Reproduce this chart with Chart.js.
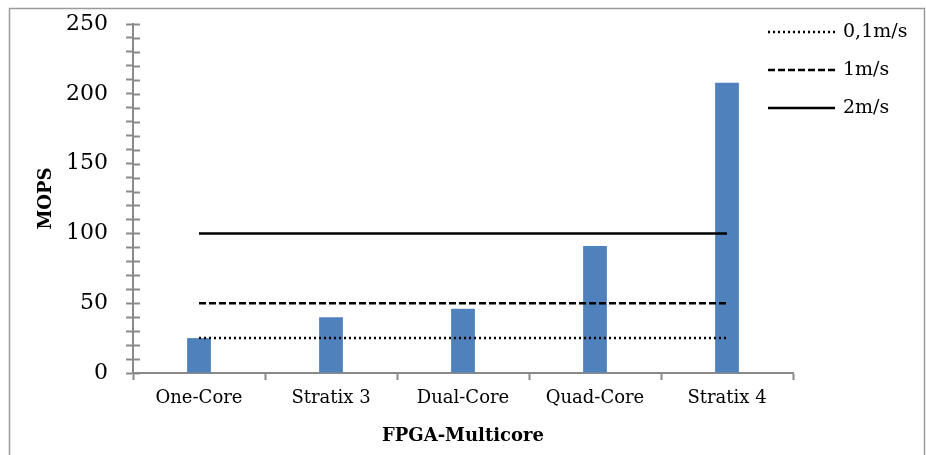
<!DOCTYPE html>
<html>
<head>
<meta charset="utf-8">
<script src="https://cdn.jsdelivr.net/npm/chart.js@4.4.1/dist/chart.umd.min.js"></script>
<style>
  html, body { margin: 0; padding: 0; background: #fff; }
  canvas { display: block; }
</style>
</head>
<body>
<canvas id="mopsChart" width="926" height="455"></canvas>
<script>
const categories = ["One-Core", "Stratix 3", "Dual-Core", "Quad-Core", "Stratix 4"];
const mopsValues = [25, 40, 46, 91, 208];
const speedLabels = ["0,1m/s", "1m/s", "2m/s"];
const speedLimits = [25, 50, 100];
const speedDashes = [[2, 3], [7, 3], []];
const yMax = 250;
const yMajorStep = 50;
const yMinorStep = 10;

const axisGray = "#8a8a8a";

// frame around the whole chart
const framePlugin = {
  id: "frame",
  beforeDraw(chart) {
    const ctx = chart.ctx;
    ctx.save();
    ctx.strokeStyle = "#9a9a9a";
    ctx.lineWidth = 1.5;
    ctx.strokeRect(9.5, 8.5, 915, 470);
    ctx.restore();
  },
};

// y ticks cross the axis, draw the inner half
const innerTicksPlugin = {
  id: "innerTicks",
  afterDraw(chart) {
    const y = chart.scales.y;
    const ctx = chart.ctx;
    const left = chart.chartArea.left;
    ctx.save();
    ctx.strokeStyle = axisGray;
    ctx.lineWidth = 2;
    y.ticks.forEach((t) => {
      const py = Math.round(y.getPixelForValue(t.value)) + 0.5;
      ctx.beginPath();
      ctx.moveTo(left, py);
      ctx.lineTo(left + 7, py);
      ctx.stroke();
    });
    ctx.restore();
  },
};

// legend on the right, line samples
const lineLegendPlugin = {
  id: "lineLegend",
  afterDraw(chart) {
    const ctx = chart.ctx;
    const rows = [32, 70, 108];
    ctx.save();
    ctx.font = "19px 'DejaVu Serif'";
    ctx.textBaseline = "middle";
    ctx.fillStyle = "#000";
    chart.data.datasets
      .filter((ds) => ds.type === "line")
      .forEach((ds, i) => {
        const yy = rows[i];
        ctx.strokeStyle = ds.borderColor;
        ctx.lineWidth = ds.borderWidth;
        ctx.setLineDash(ds.borderDash || []);
        ctx.beginPath();
        ctx.moveTo(768, yy);
        ctx.lineTo(835, yy);
        ctx.stroke();
        ctx.setLineDash([]);
        ctx.fillText(ds.label, 843, yy);
      });
    ctx.restore();
  },
};

const lineDatasets = speedLabels.map((label, i) => ({
  type: "line",
  label: label,
  data: [
    { x: categories[0], y: speedLimits[i] },
    { x: categories[categories.length - 1], y: speedLimits[i] },
  ],
  borderColor: "#000",
  borderWidth: 2.5,
  borderDash: speedDashes[i],
  pointRadius: 0,
  fill: false,
  order: i,
}));

new Chart(document.getElementById("mopsChart"), {
  type: "bar",
  data: {
    labels: categories,
    datasets: [
      {
        type: "bar",
        label: "MOPS",
        data: mopsValues,
        backgroundColor: "#4F81BD",
        categoryPercentage: 1,
        barPercentage: 0.18,
        order: 5,
      },
      ...lineDatasets,
    ],
  },
  options: {
    responsive: false,
    animation: false,
    devicePixelRatio: 1,
    layout: { padding: { top: 24, right: 133, bottom: 0, left: 0 } },
    plugins: {
      legend: { display: false },
      tooltip: { enabled: false },
    },
    scales: {
      x: {
        offset: true,
        grid: {
          offset: true,
          drawOnChartArea: false,
          tickLength: 7,
          tickColor: axisGray,
          tickWidth: 2,
        },
        border: { color: axisGray, width: 2 },
        ticks: {
          color: "#000",
          font: { family: "DejaVu Serif", size: 18 },
          padding: 8,
          maxRotation: 0,
        },
        title: {
          display: true,
          text: "FPGA-Multicore",
          color: "#000",
          font: { family: "DejaVu Serif", size: 18, weight: "bold" },
          padding: { top: 0, bottom: 8 },
        },
        afterFit(scale) {
          scale.height = 82;
          scale.paddingLeft = 0;
          scale.paddingRight = 0;
        },
      },
      y: {
        min: 0,
        max: yMax,
        grid: {
          drawOnChartArea: false,
          tickLength: 7,
          tickColor: axisGray,
          tickWidth: 2,
        },
        border: { color: axisGray, width: 2 },
        ticks: {
          stepSize: yMinorStep,
          autoSkip: false,
          color: "#000",
          font: { family: "DejaVu Serif", size: 22 },
          padding: 18,
          callback: (v) => (v % yMajorStep === 0 ? v : ""),
        },
        title: {
          display: true,
          text: "MOPS",
          color: "#000",
          font: { family: "DejaVu Serif", size: 18, weight: "bold" },
          padding: { top: 36, bottom: 0 },
        },
        afterFit(scale) {
          scale.width = 133;
          scale.paddingTop = 0;
          scale.paddingBottom = 0;
        },
      },
    },
  },
  plugins: [framePlugin, innerTicksPlugin, lineLegendPlugin],
});
</script>
</body>
</html>
